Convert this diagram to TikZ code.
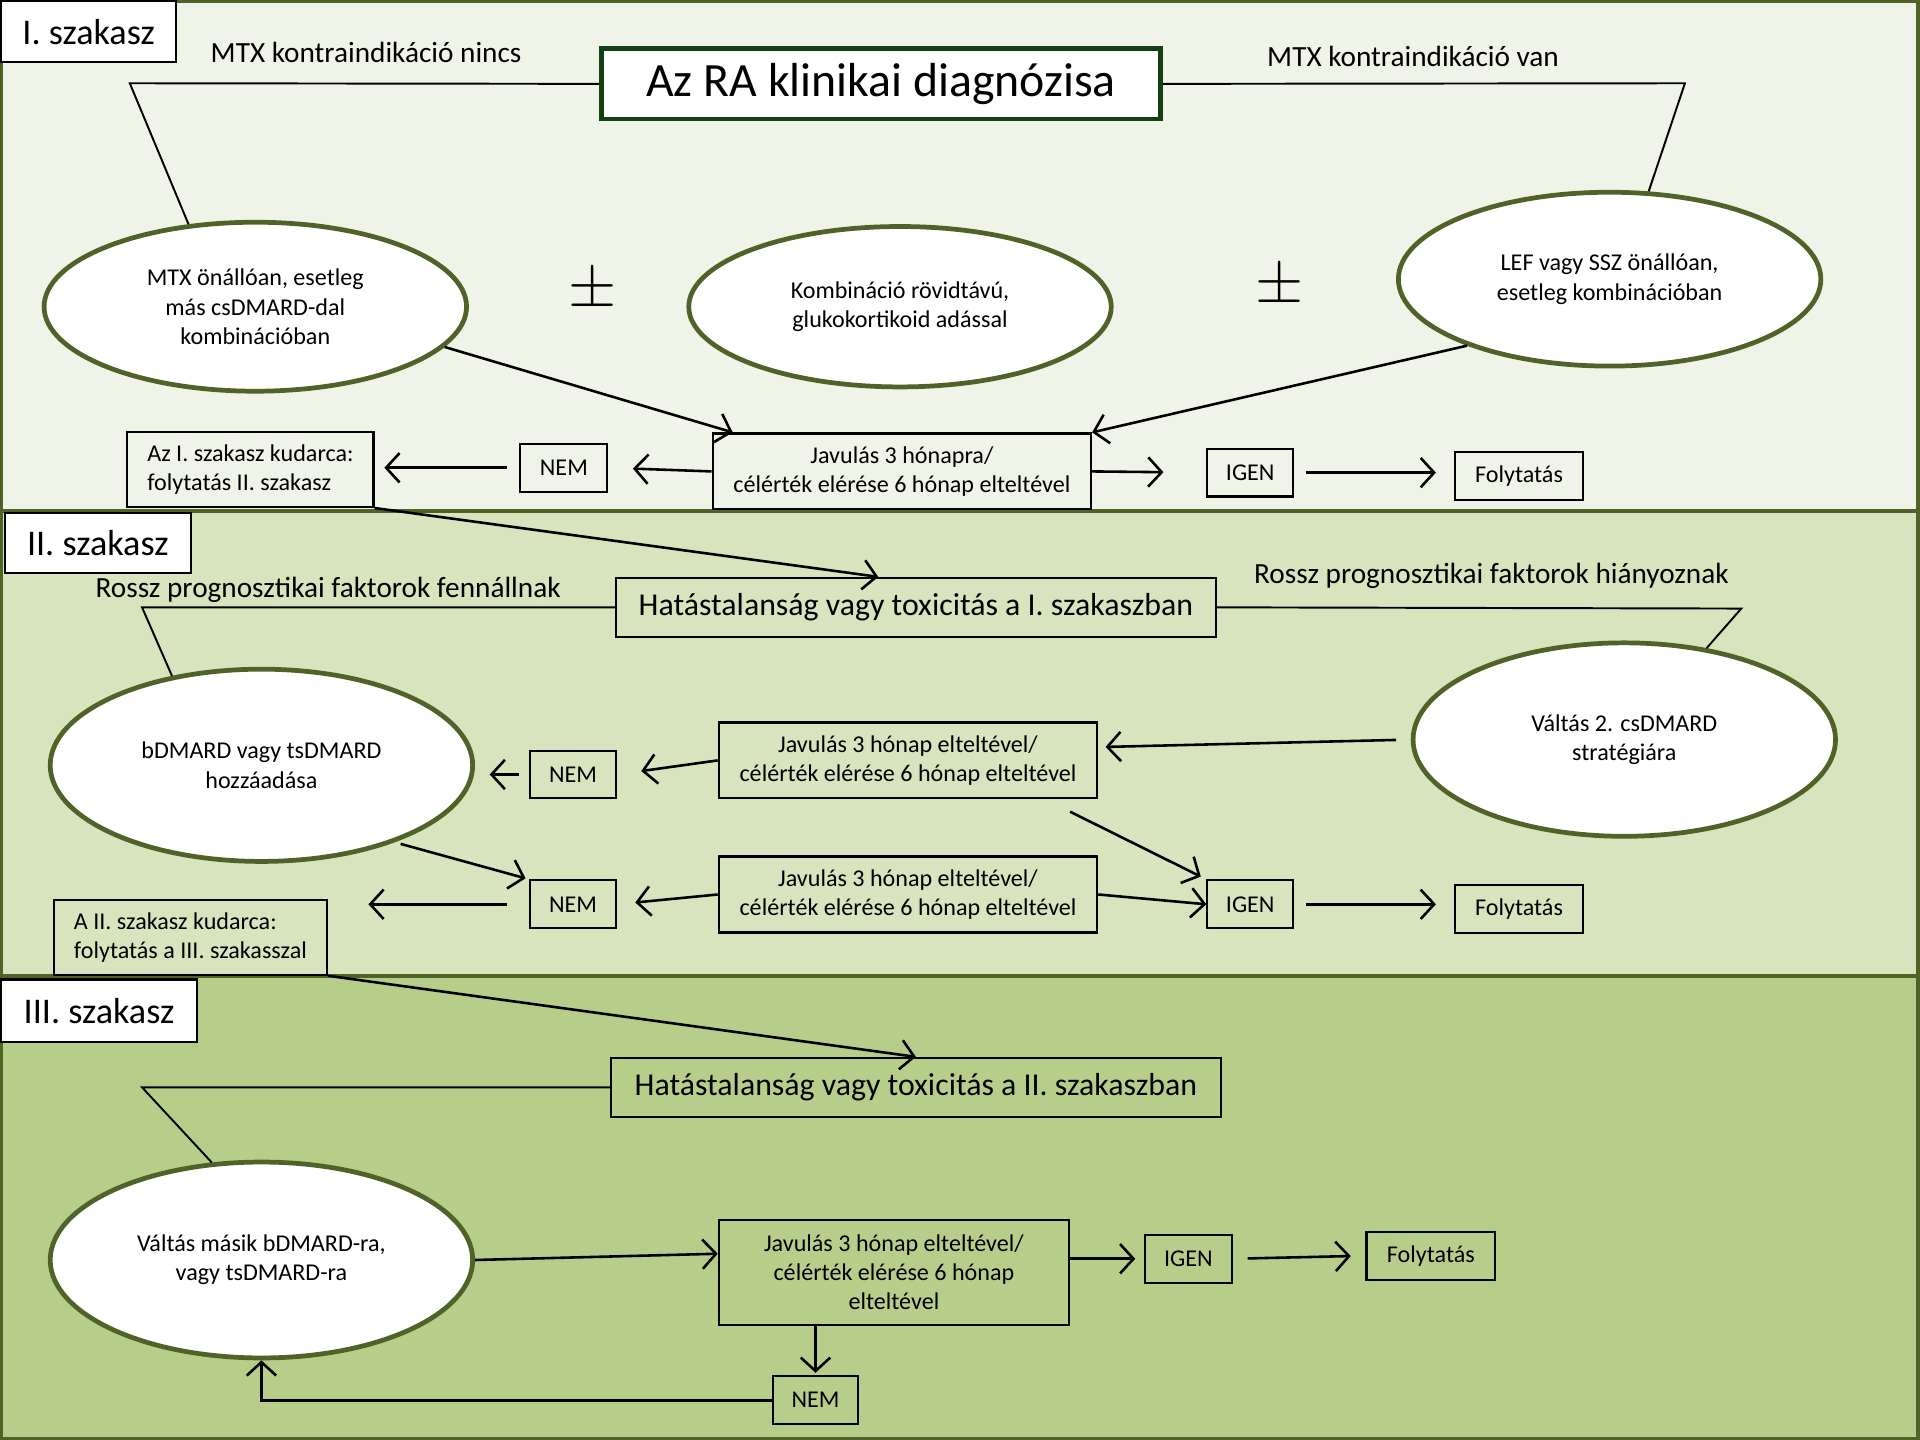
\documentclass[tikz,border=0pt]{standalone}
\usepackage{fontspec}
\setmainfont{Carlito}
\usepackage{xcolor}
\usepackage{tikz}
\usetikzlibrary{shapes.geometric,arrows.meta}

\definecolor{olivedark}{RGB}{79,98,40}
\definecolor{titlegreen}{RGB}{18,64,18}
\definecolor{stageone}{RGB}{240,244,232}
\definecolor{stagetwo}{RGB}{216,228,189}
\definecolor{stagethree}{RGB}{183,206,139}

\newcommand{\boxfont}{\fontsize{5.6}{6.8}\selectfont}
\newcommand{\lblfont}{\fontsize{6.8}{8}\selectfont}
\newcommand{\hatfont}{\fontsize{7.4}{9}\selectfont}

\begin{document}
\begin{tikzpicture}[
            panel/.style={draw=olivedark, line width=0.9pt},
            stage/.style={rectangle, draw, fill=white, line width=0.5pt, inner sep=0pt, anchor=north west, font=\fontsize{8.4}{10}\selectfont},
            oval/.style={ellipse, draw=olivedark, fill=white, line width=1.1pt, inner sep=1pt, align=center, font=\boxfont, minimum width=3.45cm},
            box/.style={rectangle, draw, line width=0.5pt, inner sep=0pt, align=center, font=\boxfont},
            yn_box/.style={box, minimum width=0.70cm, minimum height=0.39cm},
            fol_box/.style={box, minimum width=1.04cm, minimum height=0.39cm},
            jav_box/.style={box, minimum width=3.09cm, minimum height=0.62cm},
            lbl/.style={font=\lblfont},
            plusminus/.style={font=\fontsize{15}{17}\selectfont},
            arr/.style={-{Straight Barb[length=1.1mm,width=2.4mm]}, line width=0.6pt},
            link/.style={line width=0.45pt}
        ]

    \useasboundingbox (0,0) rectangle (15.68,-11.76);

    % panels
    \draw[panel, fill=stageone]   (0.01,-0.01) rectangle (15.66,-4.17);
    \draw[panel, fill=stagetwo]   (0.01,-4.17) rectangle (15.66,-7.97);
    \draw[panel, fill=stagethree] (0.01,-7.97) rectangle (15.66,-11.75);

    \node[stage, minimum width=1.43cm, minimum height=0.50cm] (s1) at (0,0)        {I. szakasz};
    \node[stage, minimum width=1.52cm, minimum height=0.49cm] (s2) at (0.03,-4.18) {II. szakasz};
    \node[stage, minimum width=1.60cm, minimum height=0.51cm] (s3) at (0,-7.99)    {III. szakasz};

    % I. szakasz
    \node[draw=titlegreen, line width=1.1pt, fill=white, minimum width=4.57cm, minimum height=0.53cm, font=\fontsize{11.1}{13}\selectfont] (diag) at (7.195,-0.685) {Az RA klinikai diagnózisa};

    \node[lbl] (nincs) at (2.99,-0.43)  {MTX kontraindikáció nincs};
    \node[lbl] (van)   at (11.54,-0.46) {MTX kontraindikáció van};

    \node[oval, minimum height=1.38cm] (mtx)  at (2.085,-2.505) {MTX önállóan, esetleg\\más csDMARD-dal\\kombinációban};
    \node[oval, minimum height=1.31cm] (komb) at (7.35,-2.505)  {Kombináció rövidtávú,\\glukokortikoid adással};
    \node[oval, minimum height=1.42cm] (lef)  at (13.145,-2.28) {LEF vagy SSZ önállóan,\\esetleg kombinációban};

    \node[plusminus] (pm1) at (4.84,-2.38)  {$\pm$};
    \node[plusminus] (pm2) at (10.45,-2.34) {$\pm$};

    \node[jav_box] (jav1)  at (7.365,-3.85)  {Javulás 3 hónapra/\\célérték elérése 6 hónap elteltével};
    \node[yn_box, minimum width=0.71cm] (nem1) at (4.605,-3.82) {NEM};
    \node[box, align=left, minimum width=2.01cm, minimum height=0.61cm] (kud1) at (2.045,-3.835) {Az I. szakasz kudarca:\\folytatás II. szakasz};
    \node[yn_box]  (igen1) at (10.21,-3.86)  {IGEN};
    \node[fol_box] (fol1)  at (12.405,-3.885) {Folytatás};

    \coordinate (kneeA) at (1.06,-0.68);
    \coordinate (kneeB) at (13.76,-0.68);
    \draw[link] (diag.west) -- (kneeA) -- (mtx.129);
    \draw[link] (diag.east) -- (kneeB) -- (lef.66);

    \draw[arr] (mtx.-12) -- (jav1.167);
    \draw[arr] (lef.205) -- (jav1.north east);
    \draw[arr, shorten >=0.2cm] (jav1.west) -- (nem1.east);
    \draw[arr, shorten <=0.1cm, shorten >=0.08cm] (nem1.west) -- (kud1.east |- nem1.west);
    \draw[arr, shorten >=0.35cm] (jav1.east) -- (igen1.west);
    \draw[arr, shorten <=0.1cm, shorten >=0.15cm] (igen1.east) -- (fol1.west |- igen1.east);

    % II. szakasz
    \node[box, font=\hatfont, minimum width=4.90cm, minimum height=0.48cm] (hat1) at (7.48,-4.96) {Hatástalanság vagy toxicitás a I. szakaszban};
    \draw[arr] (kud1.south east) -- (hat1.141);

    \node[lbl] (rossz1) at (2.68,-4.82)  {Rossz prognosztikai faktorok fennállnak};
    \node[lbl] (rossz2) at (12.18,-4.70) {Rossz prognosztikai faktorok hiányoznak};

    \node[oval, minimum height=1.57cm] (bd) at (2.135,-6.25)  {bDMARD vagy tsDMARD\\hozzáadása};
    \node[oval, minimum height=1.58cm] (cs) at (13.265,-6.04) {Váltás 2. csDMARD\\stratégiára};

    \node[jav_box] (jav2) at (7.415,-6.21)  {Javulás 3 hónap elteltével/\\célérték elérése 6 hónap elteltével};
    \node[jav_box] (jav3) at (7.415,-7.305) {Javulás 3 hónap elteltével/\\célérték elérése 6 hónap elteltével};
    \node[yn_box]  (nem2) at (4.68,-6.325)  {NEM};
    \node[yn_box]  (nem3) at (4.68,-7.385)  {NEM};
    \node[yn_box]  (igen2) at (10.21,-7.385) {IGEN};
    \node[fol_box] (fol2) at (12.405,-7.425) {Folytatás};
    \node[box, align=left, minimum width=2.23cm, minimum height=0.61cm] (kud2) at (1.555,-7.655) {A II. szakasz kudarca:\\folytatás a III. szakasszal};

    \coordinate (kneeC) at (1.16,-4.96);
    \coordinate (kneeD) at (14.22,-4.97);
    \draw[link] (hat1.west) -- (kneeC) -- (bd.135);
    \draw[link] (hat1.east) -- (kneeD) -- (cs.48);

    \draw[arr, shorten <=0.12cm, shorten >=0.06cm] (cs.west) -- (jav2.4);
    \draw[arr, shorten >=0.2cm] (jav2.west) -- (nem2.east);
    \draw[arr, shorten <=0.08cm, shorten >=0.12cm] (nem2.west) -- (bd.east |- nem2.west);
    \draw[arr, shorten >=0.05cm] ([xshift=-0.23cm,yshift=-0.1cm]jav2.south east) -- (igen2.north west);
    \draw[arr, shorten >=0.15cm] (jav3.west) -- (nem3.east);
    \draw[arr, shorten <=0.05cm, shorten >=0.03cm] (bd.-30) -- (nem3.north west);
    \draw[arr, shorten <=0.18cm, shorten >=0.33cm] (nem3.west) -- (kud2.east |- nem3.west);
    \draw[arr] (jav3.east) -- (igen2.west);
    \draw[arr, shorten <=0.1cm, shorten >=0.15cm] (igen2.east) -- (fol2.west |- igen2.east);

    % III. szakasz
    \node[box, font=\hatfont, minimum width=4.98cm, minimum height=0.48cm] (hat2) at (7.48,-8.88) {Hatástalanság vagy toxicitás a II. szakaszban};
    \draw[arr] (kud2.south east) -- (hat2.north);

    \node[oval, minimum height=1.60cm] (vm) at (2.135,-10.29) {Váltás másik bDMARD-ra,\\vagy tsDMARD-ra};

    \node[box, minimum width=2.86cm, minimum height=0.86cm] (jav4) at (7.30,-10.39) {Javulás 3 hónap elteltével/\\célérték elérése 6 hónap\\elteltével};
    \node[yn_box, minimum width=0.71cm]  (igen3) at (9.705,-10.28)  {IGEN};
    \node[fol_box, minimum width=1.05cm] (fol3)  at (11.685,-10.255) {Folytatás};
    \node[yn_box]  (nem4)  at (6.66,-11.435)  {NEM};

    \coordinate (kneeE) at (1.16,-8.88);
    \draw[link] (hat2.west) -- (kneeE) -- (vm.117);

    \draw[arr] (vm.east) -- (jav4.174);
    \draw[arr, shorten >=0.07cm] (jav4.east |- igen3.west) -- (igen3.west);
    \draw[arr, shorten <=0.12cm, shorten >=0.12cm] (igen3.east) -- (fol3.west);
    \draw[arr, shorten >=0.02cm] (jav4.south -| nem4.north) -- (nem4.north);
    \draw[arr] (nem4.west) -| (vm.south);

        \end{tikzpicture}
\end{document}
